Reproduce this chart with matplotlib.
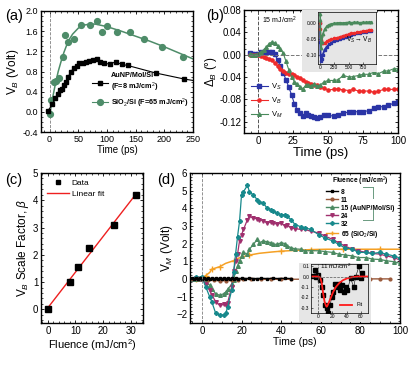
import numpy as np
import matplotlib
matplotlib.use("Agg")
import matplotlib.pyplot as plt
from matplotlib.patches import Rectangle

plt.rcParams['font.family'] = ['Liberation Sans', 'DejaVu Sans']
plt.rcParams['mathtext.fontset'] = 'custom'
plt.rcParams['mathtext.rm'] = 'Liberation Sans'
plt.rcParams['mathtext.it'] = 'Liberation Sans:italic'

# ---------------- data ----------------
# (a) V_B vs time
a_au_t = [-3, 5, 10, 15, 18, 22, 25, 28, 32, 37, 42, 47, 51, 58, 63, 69, 75, 82, 87, 94,
          105, 115, 126, 136, 185, 235, 262]
a_au_v = [0.02, 0.15, 0.28, 0.36, 0.43, 0.46, 0.53, 0.59, 0.69, 0.79, 0.87, 0.9, 0.96, 0.97,
          0.99, 1.0, 1.02, 1.04, 0.98, 0.96, 0.95, 0.99, 0.94, 0.92, 0.77, 0.65, 0.6]
a_si_t = [0, 3, 8, 12, 17, 23, 27, 32, 42, 55, 70, 82, 91, 100, 117, 140, 164, 196, 232]
a_si_v = [-0.04, 0.24, 0.6, 0.62, 0.68, 1.09, 1.53, 1.39, 1.44, 1.73, 1.72, 1.8, 1.59, 1.7,
          1.59, 1.59, 1.44, 1.28, 1.09]
a_fit_t = [0, 3, 6, 10, 15, 20, 25, 30, 35, 40, 50, 60, 70, 80, 100, 125, 150, 175, 200, 225, 250]
a_fit_v = [-0.05, 0.12, 0.32, 0.55, 0.8, 1.0, 1.18, 1.33, 1.45, 1.54, 1.66, 1.72, 1.74, 1.74,
           1.69, 1.6, 1.5, 1.4, 1.29, 1.17, 1.05]

# (b) Delta_B vs time
b_t = [-6, -4, -2, 0, 2, 4, 6, 8, 10, 12, 14, 16, 18, 20, 22, 24, 26, 28, 30, 32, 34, 36,
       38, 40, 42, 44, 47, 50, 54, 57, 61, 65, 68, 72, 75, 79, 83, 86, 90, 93, 97, 100]
b_vs = [0.003, 0.002, 0.002, 0.002, 0.004, 0.005, 0.005, 0.005, 0.005, 0.002, -0.01, -0.02,
        -0.032, -0.045, -0.058, -0.072, -0.088, -0.098, -0.104, -0.11, -0.105, -0.107,
        -0.11, -0.112, -0.114, -0.111, -0.108, -0.108, -0.11, -0.108, -0.105, -0.102,
        -0.102, -0.102, -0.102, -0.1, -0.096, -0.093, -0.093, -0.09, -0.087, -0.084]
b_vb = [0.0, 0.0, 0.0, -0.001, -0.002, -0.004, -0.006, -0.008, -0.01, -0.015, -0.02, -0.025,
        -0.029, -0.032, -0.034, -0.035, -0.037, -0.039, -0.042, -0.045, -0.048, -0.05,
        -0.052, -0.054, -0.055, -0.057, -0.06, -0.063, -0.062, -0.061, -0.063, -0.064,
        -0.062, -0.065, -0.065, -0.065, -0.067, -0.065, -0.062, -0.062, -0.062, -0.062]
b_vm = [0.001, 0.0, 0.0, 0.002, 0.005, 0.008, 0.014, 0.02, 0.023, 0.021, 0.016, 0.01, 0.003,
        -0.012, -0.027, -0.04, -0.048, -0.052, -0.057, -0.061, -0.055, -0.055, -0.056,
        -0.052, -0.056, -0.055, -0.049, -0.046, -0.046, -0.045, -0.037, -0.04, -0.039,
        -0.037, -0.035, -0.035, -0.031, -0.034, -0.029, -0.029, -0.025, -0.025]

# (b) inset, long time range
bi_t = [0, 5, 10, 20, 30, 50, 80, 120, 160, 200, 250, 300, 350, 400, 450, 500, 550, 600,
        650, 700, 750, 800, 850, 900]
bi_vs = [0.0, -0.06, -0.1, -0.12, -0.115, -0.1, -0.085, -0.075, -0.068, -0.062, -0.058,
         -0.054, -0.05, -0.046, -0.043, -0.04, -0.037, -0.035, -0.033, -0.031, -0.029,
         -0.027, -0.025, -0.024]
bi_vb = [0.0, -0.02, -0.04, -0.055, -0.062, -0.064, -0.062, -0.058, -0.055, -0.052, -0.049,
         -0.046, -0.043, -0.04, -0.037, -0.035, -0.033, -0.031, -0.029, -0.027, -0.025,
         -0.024, -0.022, -0.021]
bi_vm = [0.03, 0.01, -0.04, -0.08, -0.06, -0.035, -0.02, -0.01, -0.005, -0.003, -0.001,
         0.0, 0.001, 0.0, 0.001, 0.002, 0.001, 0.002, 0.002, 0.001, 0.002, 0.002, 0.003, 0.003]

# (c) scale factor vs fluence
c_fluence = [0, 8, 11, 15, 24, 32]
c_beta = [0.0, 1.0, 1.55, 2.25, 3.1, 4.2]

# (d) V_M vs time for each fluence
d_t = [-5, -3, -1, 0, 2, 4, 5, 7, 9, 11, 12, 13, 15, 16, 17, 18, 19, 20, 21, 23, 24, 26,
       28, 29, 31, 33, 35, 36, 38, 40, 42, 43, 45, 47, 50, 52, 55, 59, 62, 66, 69, 72, 76,
       79, 83, 86, 90, 93, 97, 100]
d_32 = [0.0, 0.1, 0.05, 0.1, -0.47, -1.03, -1.3, -1.96, -2.05, -2.05, -1.96, -1.6, -0.65,
        0.37, 1.4, 2.4, 3.26, 4.75, 4.94, 5.3, 4.94, 4.75, 4.48, 4.38, 4.29, 4.0, 3.92, 3.82,
        3.73, 3.64, 3.64, 3.54, 3.36, 3.08, 2.95, 2.9, 2.8, 2.5, 2.33, 2.15, 1.96, 1.77,
        1.68, 1.5, 1.5, 1.44, 1.5, 1.4, 1.3, 1.18]
d_24 = [0.0, 0.05, 0.02, 0.0, -0.28, -0.65, -0.9, -1.3, -1.5, -1.45, -1.5, -1.35, -0.47,
        0.47, 1.0, 1.4, 2.15, 2.5, 2.8, 3.36, 3.54, 3.45, 3.4, 3.36, 3.3, 3.17, 3.25, 3.17,
        3.1, 3.17, 3.0, 3.05, 2.9, 2.85, 2.8, 2.8, 2.7, 2.6, 2.43, 2.24, 2.05, 1.87, 1.68,
        1.59, 1.5, 1.44, 1.4, 1.3, 1.21, 1.06]
d_15 = [0.0, 0.0, 0.02, 0.0, -0.19, -0.37, -0.55, -0.84, -0.93, -0.84, -0.75, -0.6, -0.3,
        -0.09, 0.47, 0.75, 1.03, 1.3, 1.5, 1.4, 1.68, 1.96, 2.24, 2.05, 2.15, 2.1, 2.05, 1.96,
        1.96, 2.05, 2.0, 1.87, 1.77, 1.7, 1.68, 1.59, 1.6, 1.59, 1.55, 1.5, 1.4, 1.36, 1.3,
        1.21, 1.21, 1.12, 1.1, 1.03, 0.97, 0.88]
d_8_t = [-5, -4, -3, -2, -1, 0, 1, 2, 3, 4, 5, 6, 7, 8, 9, 10, 11, 12, 13, 14, 15, 16, 17,
         18, 20, 22, 24, 26, 28, 30, 33, 36, 39, 42, 45]
d_8 = [0.03, 0.02, 0.03, 0.02, 0.03, 0.02, 0.03, 0.02, 0.03, 0.02, 0.03, 0.02, 0.03, 0.02,
       0.03, 0.02, 0.03, 0.02, 0.03, 0.02, 0.03, 0.02, 0.03, 0.02, 0.03, 0.02, 0.03, 0.02,
       0.02, 0.03, 0.02, 0.03, 0.02, 0.03, 0.02]
d_11_t = [-5, -2, 0, 3, 6, 9, 12, 15, 18, 21, 25, 30, 35, 40, 45, 50, 55, 60, 65, 70, 75,
          80, 85, 90, 95]
d_11 = [0.0, 0.02, 0.0, -0.05, -0.09, -0.1, -0.1, -0.09, -0.05, -0.02, -0.02, -0.03, -0.02,
        -0.03, -0.02, -0.02, 0.0, 0.0, 0.0, 0.0, 0.0, 0.0, 0.0, 0.0, 0.0]
d_65_t = [-5, -3, 0, 2, 4, 5, 9, 12, 16, 19, 24, 29, 35, 40, 48, 55, 63, 71, 80, 90, 100]
d_65 = [0.0, 0.0, 0.06, 0.19, 0.37, 0.55, 0.69, 0.88, 1.03, 1.2, 1.35, 1.45, 1.52, 1.57,
        1.62, 1.66, 1.68, 1.68, 1.68, 1.68, 1.68]
d_65_mark_t = [-3, 2, 5, 9, 16, 24, 40, 55, 71, 90]

# (d) inset, 11 mJ/cm^2
di_t = [-6.5, -4, -3, 0, 2.8, 5, 7.5, 10, 12, 13.6, 17, 19, 21.5, 24, 26.5, 29, 31, 33.8,
        36, 38.5, 41, 45.5, 50, 52.8, 57.5, 60, 62]
di_v = [0.005, 0.066, -0.008, 0.015, -0.03, -0.1, -0.18, -0.27, -0.3, -0.35, -0.27, -0.2,
        -0.15, -0.07, -0.1, -0.07, -0.13, -0.08, -0.15, -0.1, -0.13, -0.017, -0.1, 0.0,
        0.1, -0.017, 0.03]
di_fit_t = [-10, 0, 3, 5, 7, 9, 11, 12, 13, 15, 18, 21, 25, 30, 35, 40, 45, 50, 55, 60, 70]
di_fit_v = [0.0, 0.0, -0.01, -0.06, -0.16, -0.24, -0.28, -0.29, -0.28, -0.25, -0.2, -0.15,
            -0.1, -0.06, -0.035, -0.02, -0.01, -0.005, 0.0, 0.0, 0.0]

W, H = 415, 367
fig = plt.figure(figsize=(W / 100, H / 100), dpi=100)


def box(l, r, t, b):
    return [l / W, 1 - b / H, (r - l) / W, (b - t) / H]


def style(ax, size=6.5):
    ax.tick_params(direction='in', top=True, right=True, labelsize=size, length=2.5,
                   width=0.6, pad=2)
    ax.tick_params(which='minor', direction='in', top=True, right=True, length=1.5, width=0.5)
    ax.minorticks_on()
    for s in ax.spines.values():
        s.set_linewidth(1.0)


gray = '#e6e6e6'

# ---------- (a) ----------
ax = fig.add_axes(box(41, 193, 11, 132))
ax.plot(a_fit_t, a_fit_v, color='#4e8c69', lw=1.1, zorder=2)
ax.plot(a_si_t, a_si_v, 'o', color='#4e8c69', ms=4.2, zorder=3)
ax.plot(a_au_t, a_au_v, '-s', color='black', ms=3.3, lw=0.8, zorder=3)
ax.axvline(0, color='gray', ls='--', lw=0.6)
ax.set_xlim(-15, 250)
ax.set_ylim(-0.4, 2.0)
ax.set_xticks([0, 50, 100, 150, 200, 250])
ax.set_yticks(np.arange(-0.4, 2.01, 0.4))
ax.yaxis.set_major_formatter(matplotlib.ticker.FormatStrFormatter('%.1f'))
style(ax)
ax.set_xlabel('Time (ps)', fontsize=7, labelpad=1)
ax.set_ylabel('V$_B$ (Volt)', fontsize=8.5, labelpad=1)
la1, = ax.plot([], [], '-s', color='black', ms=3.3, lw=0.8)
la2, = ax.plot([], [], '-o', color='#4e8c69', ms=4.2, lw=0.8)
ax.legend([la1, la2], ['AuNP/MoI/Si\n(F=8 mJ/cm$^2$)', 'SiO$_2$/Si (F=65 mJ/cm$^2$)'],
          loc='lower right', bbox_to_anchor=(1.0, 0.15), frameon=False,
          prop={'size': 5.2, 'weight': 'bold'}, handlelength=2.2, handletextpad=0.4,
          labelspacing=0.3, borderaxespad=0.2)
fig.text(5 / W, 1 - 20 / H, '(a)', fontsize=10.5)

# ---------- (b) ----------
ax = fig.add_axes(box(244, 398, 10, 133))
ax.plot(b_t, b_vs, '-s', color='#2a34a6', ms=2.3, lw=0.8)
ax.plot(b_t, b_vb, '-o', color='#ee2a2a', ms=2.3, lw=0.8)
ax.plot(b_t, b_vm, '-^', color='#4a8a5c', ms=2.6, lw=0.8)
ax.axvline(0, color='#555555', ls='--', lw=0.7)
ax.axhline(0, color='#777777', ls='--', lw=0.7)
ax.set_xlim(-10, 100)
ax.set_ylim(-0.14, 0.08)
ax.set_yticks([-0.12, -0.08, -0.04, 0.0, 0.04, 0.08])
ax.yaxis.set_major_formatter(matplotlib.ticker.FormatStrFormatter('%.2f'))
style(ax, 7)
ax.set_xlabel('Time (ps)', fontsize=9.5, labelpad=1)
ax.set_ylabel('$\\Delta_B$ (°)', fontsize=8.5, labelpad=0)
ax.legend(['V$_S$', 'V$_B$', 'V$_M$'], loc='lower left', bbox_to_anchor=(0.0, 0.05),
          frameon=False, fontsize=5.5, handlelength=2.2, handletextpad=0.4,
          labelspacing=0.5)
ax.text(3, 0.056, '15 mJ/cm$^2$', fontsize=5, zorder=7)
ax.add_patch(Rectangle((302 / W, 1 - 72 / H), 75 / W, 62 / H, transform=fig.transFigure,
                       facecolor=gray, edgecolor='none', clip_on=False, zorder=5))
fig.text(206 / W, 1 - 20 / H, '(b)', fontsize=10.5)

axi = fig.add_axes(box(318, 376, 12, 64))
axi.set_facecolor(gray)
axi.plot(bi_t, bi_vs, '-s', color='#2a34a6', ms=1.6, lw=1.4)
axi.plot(bi_t, bi_vb, '-o', color='#ee2a2a', ms=1.6, lw=0.8)
axi.plot(bi_t, bi_vm, '-^', color='#4a8a5c', ms=1.8, lw=1.2)
axi.set_xlim(-35, 980)
axi.set_ylim(-0.13, 0.035)
axi.set_xticks([0, 250, 500, 750])
axi.set_yticks([-0.1, -0.05, 0.0])
axi.set_yticklabels(['-0.10', '-0.05', '0.00'])
axi.tick_params(direction='in', labelsize=3.5, length=1.5, width=0.4, pad=1)
for s in axi.spines.values():
    s.set_linewidth(0.5)
axi.text(450, -0.058, 'V$_S$$\\rightarrow$V$_B$', fontsize=4.8)

# ---------- (c) ----------
ax = fig.add_axes(box(41, 143, 173, 323))
fit = np.polyfit(c_fluence, c_beta, 1)
xf = np.array([c_fluence[0], c_fluence[-1]])
ax.plot(c_fluence, c_beta, 's', color='black', ms=5, label='Data', zorder=3)
ax.plot(xf, np.polyval(fit, xf), color='#ee2020', lw=1.0, label='Linear fit', zorder=2)
ax.set_xlim(-2.5, 34.5)
ax.set_ylim(-0.5, 5)
ax.set_xticks([0, 10, 20, 30])
ax.set_yticks([0, 1, 2, 3, 4, 5])
style(ax, 7)
ax.set_xlabel('Fluence (mJ/cm$^2$)', fontsize=8, labelpad=1)
ax.set_ylabel('V$_B$ Scale Factor, $\\beta$', fontsize=8.5, labelpad=1)
ax.legend(loc='upper left', frameon=False, fontsize=6, handlelength=2.6,
          handletextpad=0.4, labelspacing=0.4, borderaxespad=0.3, markerscale=0.7)
fig.text(5 / W, 1 - 184 / H, '(c)', fontsize=10.5)

# ---------- (d) ----------
ax = fig.add_axes(box(190, 400, 173, 323))
ax.plot(d_65_t, d_65, color='#f5a024', lw=1.1)
ax.plot(d_65_mark_t, np.interp(d_65_mark_t, d_65_t, d_65), '+', color='#f5a024', ms=4,
        mew=1)
ax.plot(d_t, d_15, '-^', color='#4b8a62', ms=2.6, lw=0.9)
ax.plot(d_t, d_24, '-v', color='#a0306e', ms=2.6, lw=0.9)
ax.plot(d_t, d_32, '-P', color='#17898c', ms=2.6, lw=0.9)
ax.plot(d_11_t, d_11, '-o', color='#9a5a3c', ms=2.0, lw=1.0)
ax.plot(d_8_t, d_8, '-s', color='black', ms=2.0, lw=1.0)
ax.axvline(0, color='gray', ls='--', lw=0.6)
ax.set_xlim(-6, 100)
ax.set_ylim(-2.5, 6)
ax.set_xticks([0, 20, 40, 60, 80, 100])
ax.set_yticks(range(-2, 7))
style(ax, 7)
ax.set_xlabel('Time (ps)', fontsize=7.5, labelpad=1)
ax.set_ylabel('V$_M$ (Volt)', fontsize=8.5, labelpad=1)
h = [ax.plot([], [], '-s', color='black', ms=2, lw=1)[0],
     ax.plot([], [], '-o', color='#9a5a3c', ms=2, lw=1)[0],
     ax.plot([], [], '-^', color='#4b8a62', ms=2.5, lw=1)[0],
     ax.plot([], [], '-v', color='#a0306e', ms=2.5, lw=1)[0],
     ax.plot([], [], '-P', color='#17898c', ms=2.5, lw=1)[0],
     ax.plot([], [], '-+', color='#f5a024', ms=3.5, lw=1)[0]]
leg = ax.legend(h, ['8', '11', '15 (AuNP/MoI/Si)', '24', '32', '65 (SiO$_2$/Si)'],
                title='Fluence (mJ/cm$^2$)', loc='upper right', bbox_to_anchor=(1.0, 1.03),
                frameon=False, fontsize=4.8, title_fontsize=4.8, handlelength=1.8,
                handletextpad=0.4, labelspacing=0.15)
leg.get_title().set_fontweight('bold')
for t in leg.get_texts():
    t.set_fontweight('bold')
bc = '#6a9a80'
for xs, ys in [([363, 373], [187, 187]), ([373, 373], [187, 198]),
               ([373, 373], [210, 220]), ([363, 373], [220, 220])]:
    ax.plot([x / W for x in xs], [1 - y / H for y in ys], color=bc, lw=0.7,
            transform=fig.transFigure, clip_on=False)
ax.add_patch(Rectangle((299 / W, 1 - 322 / H), 72 / W, 59 / H, transform=fig.transFigure,
                       facecolor=gray, edgecolor='none', clip_on=False, zorder=5))
fig.text(157 / W, 1 - 184 / H, '(d)', fontsize=10.5)

axi = fig.add_axes(box(311, 368, 264, 313))
axi.set_facecolor(gray)
axi.plot(di_t, di_v, '-s', color='black', ms=2.2, lw=0.4)
axi.plot(di_fit_t, di_fit_v, color='#ff1a1a', lw=1.3, label='Fit')
axi.axhline(0, color='#555555', ls='--', lw=0.5)
axi.axvline(0, color='#555555', ls='--', lw=0.5)
axi.set_xlim(-10, 70)
axi.set_ylim(-0.35, 0.12)
axi.set_xticks([0, 20, 40, 60])
axi.set_yticks([-0.3, -0.2, -0.1, 0.0, 0.1])
axi.set_yticklabels(['-0.3', '-0.2', '-0.1', '0.0', '0.1'])
axi.tick_params(direction='in', labelsize=3.5, length=1.5, width=0.4, pad=1)
for s in axi.spines.values():
    s.set_linewidth(0.5)
axi.text(3, 0.07, '11 mJ/cm$^2$', fontsize=4.5)
axi.legend(loc='lower right', frameon=False, fontsize=4, handlelength=2.2,
           borderaxespad=0.6)

fig.savefig('out.png', dpi=100)
